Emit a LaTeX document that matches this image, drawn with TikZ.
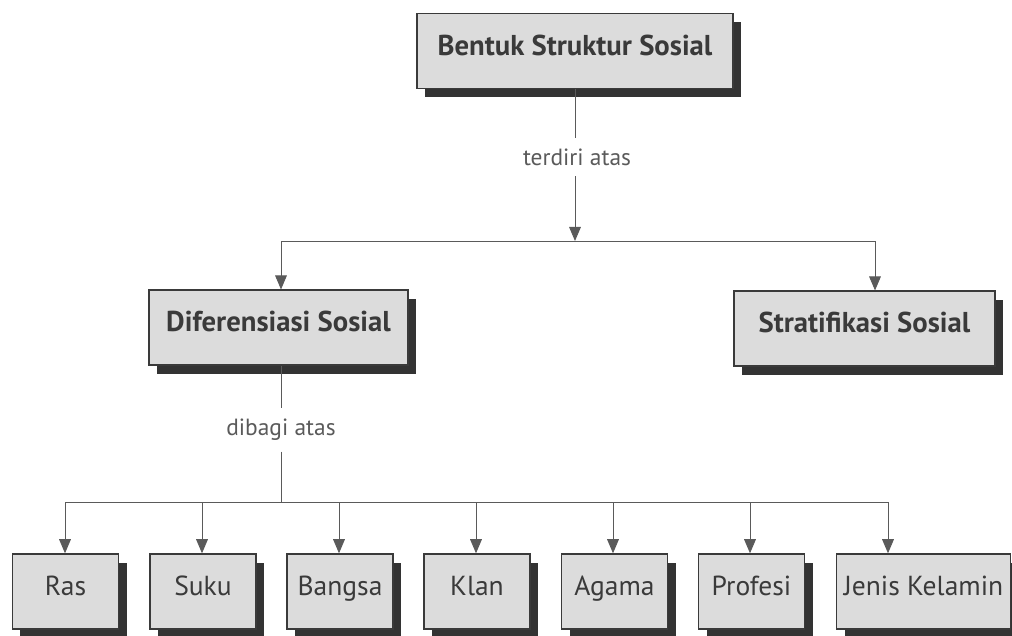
\documentclass[tikz,border=0pt]{standalone}
\usepackage{fontspec}
\setmainfont{PT Sans}
\usetikzlibrary{arrows.meta,shadows}
\definecolor{boxgray}{HTML}{DCDCDC}
\definecolor{shadowgray}{HTML}{333333}
\definecolor{inkgray}{HTML}{3A3A3A}
\definecolor{linegray}{HTML}{5A5A5A}
\tikzset{
  kotak/.style={draw=inkgray, line width=1.2pt, fill=boxgray, text=inkgray, inner sep=0pt,
    text height=0.7em, text depth=0pt,
    drop shadow={shadow xshift=0.24cm, shadow yshift=-0.26cm, fill=shadowgray, opacity=1}},
  judul/.style={kotak, font=\fontsize{24.5}{28}\selectfont\bfseries, minimum height=2.24cm},
  jenis/.style={kotak, font=\fontsize{23.5}{28}\selectfont, minimum width=3.18cm, minimum height=2.25cm},
  ket/.style={text=linegray, font=\fontsize{20}{24}\selectfont, inner xsep=2pt, inner ysep=9pt},
  garis/.style={draw=linegray, line width=0.8pt},
  panah/.style={garis, -{Triangle[length=12pt,width=10pt]}}
}

\begin{document}
\begin{tikzpicture}[x=0.03cm, y=-0.03cm]
	%%%%% START %%%%%
	\useasboundingbox (0,0) rectangle (1012,635);
	
	\node[judul, minimum width=9.48cm] (bentuk) at (575, 51) {Bentuk Struktur Sosial};
	\node[ket] (terdiri) at (577, 157) {terdiri atas};
	
	\coordinate (cabang) at (575, 241);
	\coordinate (kiri) at (281, 241);
	\coordinate (kanan) at (875, 241);
	
	\node[judul, minimum width=7.77cm] (difer) at (278.5, 327.5) {Diferensiasi Sosial};
	\node[judul, minimum width=7.83cm] (strat) at (864.5, 328.5) {Stratifikasi Sosial};
	
	\draw[garis] (bentuk.south) -- (bentuk.south |- terdiri.north);
	\draw[panah] (cabang |- terdiri.south) -- (cabang);
	\draw[garis] (kiri) -- (kanan);
	\draw[panah] (kiri) -- (kiri |- difer.north);
	\draw[panah] (kanan) -- (kanan |- strat.north);
	
	\node[ket] (dibagi) at (281, 430) {dibagi atas};
	\coordinate (bawah) at (281, 502);
	\draw[garis] (dibagi |- difer.south) -- (dibagi);
	\draw[garis] (dibagi) -- (bawah);
	
	% kotak-kotak bagian bawah
	\foreach \i/\x/\teks in {1/65.5/Ras, 2/203/Suku, 3/340/Bangsa, 4/477/Klan, 5/614.5/Agama, 6/751.5/Profesi}
		\node[jenis] (b\i) at (\x, 591.5) {\teks};
	\node[jenis, minimum width=5.22cm] (b7) at (923.5, 591.5) {Jenis Kelamin};
	
	\coordinate (t1) at (65, 502);
	\coordinate (t7) at (888, 502);
	\draw[garis] (t1) -- (t7);
	\foreach \i/\x in {1/65, 2/202, 3/339, 4/476, 5/613, 6/750, 7/888}{
		\coordinate (t\i) at (\x, 502);
		\draw[panah] (t\i) -- (t\i |- b\i.north);
	}
	%%%%% END %%%%%
\end{tikzpicture}
\end{document}
